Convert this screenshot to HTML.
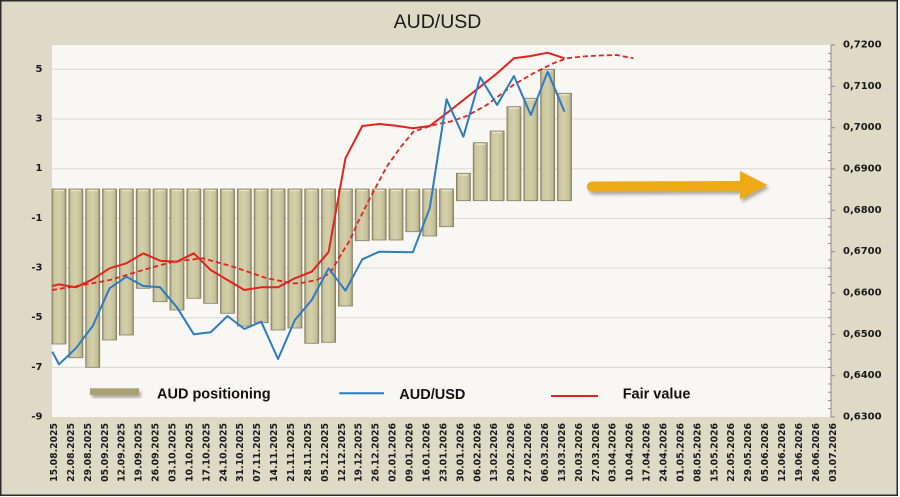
<!DOCTYPE html>
<html>
<head>
<meta charset="utf-8">
<style>
html,body{margin:0;padding:0;background:#ffffff;}
svg{display:block;}
</style>
</head>
<body>
<svg width="900" height="497" viewBox="0 0 900 497" xmlns="http://www.w3.org/2000/svg">
<defs>
<linearGradient id="bar" x1="0" y1="0" x2="1" y2="0">
<stop offset="0" stop-color="#8f896b"/>
<stop offset="0.14" stop-color="#cdc7a0"/>
<stop offset="0.5" stop-color="#d4cfaa"/>
<stop offset="0.86" stop-color="#c3bd95"/>
<stop offset="1" stop-color="#8a8466"/>
</linearGradient>
<filter id="sh" x="-10%" y="-30%" width="130%" height="180%">
<feDropShadow dx="2" dy="3" stdDeviation="1.6" flood-color="#6d6a5e" flood-opacity="0.55"/>
</filter>
</defs>

<!-- outer background and frame -->
<rect x="0.75" y="0.75" width="896.5" height="494.5" fill="#dddac6" stroke="#2b2b2b" stroke-width="1.5"/>

<!-- title -->
<text x="437.5" y="28" font-family="Liberation Sans, sans-serif" font-size="19.5" fill="#1a1a1a" text-anchor="middle">AUD/USD</text>

<!-- plot area -->
<rect x="52" y="45" width="779" height="372" fill="#f8f7f3"/>

<!-- gridlines -->
<g stroke="#d9d8d3" stroke-width="1">
<line x1="52" y1="69.3" x2="831" y2="69.3"/>
<line x1="52" y1="119" x2="831" y2="119"/>
<line x1="52" y1="168.7" x2="831" y2="168.7"/>
<line x1="52" y1="218.4" x2="831" y2="218.4"/>
<line x1="52" y1="268" x2="831" y2="268"/>
<line x1="52" y1="317.7" x2="831" y2="317.7"/>
<line x1="52" y1="367.4" x2="831" y2="367.4"/>
</g>

<!-- bars -->
<g fill="url(#bar)" stroke="#857f62" stroke-width="0.8">
<rect x="52" y="189" width="14" height="155"/>
<rect x="68.85" y="189" width="14" height="168.7"/>
<rect x="85.7" y="189" width="14" height="178.3"/>
<rect x="102.55" y="189" width="14" height="151"/>
<rect x="119.4" y="189" width="14" height="146"/>
<rect x="136.25" y="189" width="14" height="99.3"/>
<rect x="153.1" y="189" width="14" height="112.7"/>
<rect x="169.95" y="189" width="14" height="121"/>
<rect x="186.8" y="189" width="14" height="109.3"/>
<rect x="203.65" y="189" width="14" height="114.3"/>
<rect x="220.5" y="189" width="14" height="124.3"/>
<rect x="237.35" y="189" width="14" height="137"/>
<rect x="254.2" y="189" width="14" height="133.7"/>
<rect x="271.05" y="189" width="14" height="141"/>
<rect x="287.9" y="189" width="14" height="139"/>
<rect x="304.75" y="189" width="14" height="154.3"/>
<rect x="321.6" y="189" width="14" height="153.3"/>
<rect x="338.45" y="189" width="14" height="117"/>
<rect x="355.3" y="189" width="14" height="51.7"/>
<rect x="372.15" y="189" width="14" height="51"/>
<rect x="389" y="189" width="14" height="51"/>
<rect x="405.85" y="189" width="14" height="42.7"/>
<rect x="422.7" y="189" width="14" height="47"/>
<rect x="439.55" y="189" width="14" height="37.7"/>
<rect x="456.4" y="173.3" width="14" height="27.4"/>
<rect x="473.25" y="142.7" width="14" height="58"/>
<rect x="490.1" y="131" width="14" height="69.7"/>
<rect x="506.95" y="106.7" width="14" height="94"/>
<rect x="523.8" y="98.3" width="14" height="102.4"/>
<rect x="540.65" y="69.3" width="14" height="131.4"/>
<rect x="557.5" y="93.3" width="14" height="107.4"/>
</g>
<!-- bar top highlights -->
<g stroke="#ebe7cc" stroke-width="1.2">
<line x1="54" y1="190.5" x2="64" y2="190.5"/><line x1="70.8" y1="190.5" x2="80.8" y2="190.5"/><line x1="87.7" y1="190.5" x2="97.7" y2="190.5"/><line x1="104.5" y1="190.5" x2="114.5" y2="190.5"/><line x1="121.4" y1="190.5" x2="131.4" y2="190.5"/><line x1="138.2" y1="190.5" x2="148.2" y2="190.5"/><line x1="155.1" y1="190.5" x2="165.1" y2="190.5"/><line x1="172" y1="190.5" x2="182" y2="190.5"/><line x1="188.8" y1="190.5" x2="198.8" y2="190.5"/><line x1="205.6" y1="190.5" x2="215.6" y2="190.5"/><line x1="222.5" y1="190.5" x2="232.5" y2="190.5"/><line x1="239.3" y1="190.5" x2="249.3" y2="190.5"/><line x1="256.2" y1="190.5" x2="266.2" y2="190.5"/><line x1="273" y1="190.5" x2="283" y2="190.5"/><line x1="289.9" y1="190.5" x2="299.9" y2="190.5"/><line x1="306.7" y1="190.5" x2="316.7" y2="190.5"/><line x1="323.6" y1="190.5" x2="333.6" y2="190.5"/><line x1="340.4" y1="190.5" x2="350.4" y2="190.5"/><line x1="357.3" y1="190.5" x2="367.3" y2="190.5"/><line x1="374.1" y1="190.5" x2="384.1" y2="190.5"/><line x1="391" y1="190.5" x2="401" y2="190.5"/><line x1="407.8" y1="190.5" x2="417.8" y2="190.5"/><line x1="424.7" y1="190.5" x2="434.7" y2="190.5"/><line x1="441.5" y1="190.5" x2="451.5" y2="190.5"/>
<line x1="458.4" y1="174.8" x2="468.4" y2="174.8"/><line x1="475.2" y1="144.2" x2="485.2" y2="144.2"/><line x1="492.1" y1="132.5" x2="502.1" y2="132.5"/><line x1="508.9" y1="108.2" x2="518.9" y2="108.2"/><line x1="525.8" y1="99.8" x2="535.8" y2="99.8"/><line x1="542.6" y1="70.8" x2="552.6" y2="70.8"/><line x1="559.5" y1="94.8" x2="569.5" y2="94.8"/>
</g>

<!-- red dashed fair-value trend -->
<polyline fill="none" stroke="#e2231c" stroke-width="1.8" stroke-dasharray="5,3" stroke-linejoin="round"
points="52,290 83,285 110,280 143,270 173,261.7 203,258.3 233,266.7 267,278.3 293,283.3 300,283.3 316.7,280 330,273.3 341.7,253.3 350,240 358,222 369,200 386.7,166.7 400,148 413.3,131.7 433.3,125 450,121.7 466.7,116 486.7,105 513.3,85 533.3,73.3 553.3,63.3 566.7,58.3 583,56.5 600,55.5 616.7,55 633.3,58.3"/>

<!-- red solid fair value -->
<polyline fill="none" stroke="#e2231c" stroke-width="2" stroke-linejoin="round"
points="52.3,286 59,284.3 75.85,287.3 92.7,279.3 109.55,268.3 126.4,263.3 143.25,253.3 160.1,260.7 176.95,261.7 193.8,253.3 210.65,270 227.5,280 244.35,290 261.2,287.3 278.05,287.3 294.9,278.3 311.75,271.7 328.6,252 345.45,158.3 362.3,126 379.15,124 396,125.7 412.85,128.3 429.7,126 446.55,113.3 463.4,100 480.25,86.7 497.1,73.3 513.95,58.3 530.8,56 547.65,52.7 564.5,58.3"/>

<!-- blue AUD/USD -->
<polyline fill="none" stroke="#2b7cc2" stroke-width="2" stroke-linejoin="round"
points="52.3,351.7 59,364.3 75.85,348.3 92.7,326 109.55,288.3 126.4,276.7 143.25,286 160.1,287.3 176.95,307.3 193.8,334.3 210.65,332.3 227.5,316 244.35,329 261.2,321.7 278.05,359 294.9,320 311.75,300 328.6,268.3 345.45,290.7 362.3,259.3 379.15,251.7 396,252 412.85,252.3 429.7,208.3 446.55,99.3 463.4,136.7 480.25,77.3 497.1,105 513.95,76 530.8,115 547.65,71.7 564.5,111.7"/>

<!-- arrow -->
<g filter="url(#sh)" fill="#eeaa16">
<path d="M592,181.5 L742,181 L742,191 L592,191.8 A5.15,5.15 0 0 1 592,181.5 Z"/>
<polygon points="740,171 767.5,185 740,199.5"/>
</g>

<!-- right axis -->
<g stroke="#9e8080" stroke-width="1">
<line x1="831" y1="45" x2="831" y2="417"/>
<line x1="831" y1="45" x2="835" y2="45"/><line x1="831" y1="86.3" x2="835" y2="86.3"/><line x1="831" y1="127.7" x2="835" y2="127.7"/><line x1="831" y1="169" x2="835" y2="169"/><line x1="831" y1="210.3" x2="835" y2="210.3"/><line x1="831" y1="251.7" x2="835" y2="251.7"/><line x1="831" y1="293" x2="835" y2="293"/><line x1="831" y1="334.3" x2="835" y2="334.3"/><line x1="831" y1="375.7" x2="835" y2="375.7"/><line x1="831" y1="417" x2="835" y2="417"/>
</g>
<g stroke="#8a7070" stroke-width="0.8">
<line x1="828" y1="53.3" x2="831" y2="53.3"/><line x1="828" y1="61.5" x2="831" y2="61.5"/><line x1="828" y1="69.8" x2="831" y2="69.8"/><line x1="828" y1="78.1" x2="831" y2="78.1"/>
<line x1="828" y1="94.6" x2="831" y2="94.6"/><line x1="828" y1="102.9" x2="831" y2="102.9"/><line x1="828" y1="111.1" x2="831" y2="111.1"/><line x1="828" y1="119.4" x2="831" y2="119.4"/>
<line x1="828" y1="136" x2="831" y2="136"/><line x1="828" y1="144.2" x2="831" y2="144.2"/><line x1="828" y1="152.5" x2="831" y2="152.5"/><line x1="828" y1="160.7" x2="831" y2="160.7"/>
<line x1="828" y1="177.3" x2="831" y2="177.3"/><line x1="828" y1="185.5" x2="831" y2="185.5"/><line x1="828" y1="193.8" x2="831" y2="193.8"/><line x1="828" y1="202" x2="831" y2="202"/>
<line x1="828" y1="218.6" x2="831" y2="218.6"/><line x1="828" y1="226.9" x2="831" y2="226.9"/><line x1="828" y1="235.1" x2="831" y2="235.1"/><line x1="828" y1="243.4" x2="831" y2="243.4"/>
<line x1="828" y1="260" x2="831" y2="260"/><line x1="828" y1="268.2" x2="831" y2="268.2"/><line x1="828" y1="276.5" x2="831" y2="276.5"/><line x1="828" y1="284.7" x2="831" y2="284.7"/>
<line x1="828" y1="301.3" x2="831" y2="301.3"/><line x1="828" y1="309.5" x2="831" y2="309.5"/><line x1="828" y1="317.8" x2="831" y2="317.8"/><line x1="828" y1="326" x2="831" y2="326"/>
<line x1="828" y1="342.6" x2="831" y2="342.6"/><line x1="828" y1="350.9" x2="831" y2="350.9"/><line x1="828" y1="359.1" x2="831" y2="359.1"/><line x1="828" y1="367.4" x2="831" y2="367.4"/>
<line x1="828" y1="384" x2="831" y2="384"/><line x1="828" y1="392.2" x2="831" y2="392.2"/><line x1="828" y1="400.5" x2="831" y2="400.5"/><line x1="828" y1="408.7" x2="831" y2="408.7"/>
</g>

<!-- right axis labels -->
<g font-family="DejaVu Sans, sans-serif" font-weight="bold" font-size="10" fill="#1a1a1a" dominant-baseline="central">
<text x="843" y="45">0,7200</text>
<text x="843" y="86.3">0,7100</text>
<text x="843" y="127.7">0,7000</text>
<text x="843" y="169">0,6900</text>
<text x="843" y="210.3">0,6800</text>
<text x="843" y="251.7">0,6700</text>
<text x="843" y="293">0,6600</text>
<text x="843" y="334.3">0,6500</text>
<text x="843" y="375.7">0,6400</text>
<text x="843" y="417">0,6300</text>
</g>

<!-- left axis labels -->
<g font-family="DejaVu Sans, sans-serif" font-weight="bold" font-size="10" fill="#1a1a1a" text-anchor="end" dominant-baseline="central">
<text x="42.5" y="69.3">5</text>
<text x="42.5" y="119">3</text>
<text x="42.5" y="168.7">1</text>
<text x="42.5" y="218.4">-1</text>
<text x="42.5" y="268">-3</text>
<text x="42.5" y="317.7">-5</text>
<text x="42.5" y="367.4">-7</text>
<text x="42.5" y="417">-9</text>
</g>

<!-- x axis labels -->
<g font-family="DejaVu Sans, sans-serif" font-weight="bold" font-size="9.3" fill="#1a1a1a" text-anchor="end" dominant-baseline="central">
<text transform="translate(54.5,423) rotate(-90)">15.08.2025</text>
<text transform="translate(71.4,423) rotate(-90)">22.08.2025</text>
<text transform="translate(88.4,423) rotate(-90)">29.08.2025</text>
<text transform="translate(105.3,423) rotate(-90)">05.09.2025</text>
<text transform="translate(122.2,423) rotate(-90)">12.09.2025</text>
<text transform="translate(139.2,423) rotate(-90)">19.09.2025</text>
<text transform="translate(156.1,423) rotate(-90)">26.09.2025</text>
<text transform="translate(173,423) rotate(-90)">03.10.2025</text>
<text transform="translate(189.9,423) rotate(-90)">10.10.2025</text>
<text transform="translate(206.9,423) rotate(-90)">17.10.2025</text>
<text transform="translate(223.8,423) rotate(-90)">24.10.2025</text>
<text transform="translate(240.7,423) rotate(-90)">31.10.2025</text>
<text transform="translate(257.7,423) rotate(-90)">07.11.2025</text>
<text transform="translate(274.6,423) rotate(-90)">14.11.2025</text>
<text transform="translate(291.5,423) rotate(-90)">21.11.2025</text>
<text transform="translate(308.5,423) rotate(-90)">28.11.2025</text>
<text transform="translate(325.4,423) rotate(-90)">05.12.2025</text>
<text transform="translate(342.3,423) rotate(-90)">12.12.2025</text>
<text transform="translate(359.2,423) rotate(-90)">19.12.2025</text>
<text transform="translate(376.2,423) rotate(-90)">26.12.2025</text>
<text transform="translate(393.1,423) rotate(-90)">02.01.2026</text>
<text transform="translate(410,423) rotate(-90)">09.01.2026</text>
<text transform="translate(427,423) rotate(-90)">16.01.2026</text>
<text transform="translate(443.9,423) rotate(-90)">23.01.2026</text>
<text transform="translate(460.8,423) rotate(-90)">30.01.2026</text>
<text transform="translate(477.8,423) rotate(-90)">06.02.2026</text>
<text transform="translate(494.7,423) rotate(-90)">13.02.2026</text>
<text transform="translate(511.6,423) rotate(-90)">20.02.2026</text>
<text transform="translate(528.5,423) rotate(-90)">27.02.2026</text>
<text transform="translate(545.5,423) rotate(-90)">06.03.2026</text>
<text transform="translate(562.4,423) rotate(-90)">13.03.2026</text>
<text transform="translate(579.3,423) rotate(-90)">20.03.2026</text>
<text transform="translate(596.3,423) rotate(-90)">27.03.2026</text>
<text transform="translate(613.2,423) rotate(-90)">03.04.2026</text>
<text transform="translate(630.1,423) rotate(-90)">10.04.2026</text>
<text transform="translate(647.1,423) rotate(-90)">17.04.2026</text>
<text transform="translate(664,423) rotate(-90)">24.04.2026</text>
<text transform="translate(680.9,423) rotate(-90)">01.05.2026</text>
<text transform="translate(697.8,423) rotate(-90)">08.05.2026</text>
<text transform="translate(714.8,423) rotate(-90)">15.05.2026</text>
<text transform="translate(731.7,423) rotate(-90)">22.05.2026</text>
<text transform="translate(748.6,423) rotate(-90)">29.05.2026</text>
<text transform="translate(765.6,423) rotate(-90)">05.06.2026</text>
<text transform="translate(782.5,423) rotate(-90)">12.06.2026</text>
<text transform="translate(799.4,423) rotate(-90)">19.06.2026</text>
<text transform="translate(816.4,423) rotate(-90)">26.06.2026</text>
<text transform="translate(833.3,423) rotate(-90)">03.07.2026</text>
</g>

<!-- legend -->
<rect x="90" y="388.3" width="49" height="6.7" fill="#a9a171" filter="url(#sh)"/>
<text x="157" y="398.3" font-family="Liberation Sans, sans-serif" font-weight="bold" font-size="14.5" fill="#111">AUD positioning</text>
<line x1="339.3" y1="393.3" x2="384" y2="393.3" stroke="#2b7cc2" stroke-width="2"/>
<text x="399.3" y="398.8" font-family="Liberation Sans, sans-serif" font-weight="bold" font-size="14.5" fill="#111">AUD/USD</text>
<line x1="551" y1="396" x2="598" y2="396" stroke="#e2231c" stroke-width="2"/>
<text x="622.7" y="398.3" font-family="Liberation Sans, sans-serif" font-weight="bold" font-size="14.5" fill="#111">Fair value</text>
</svg>
</body>
</html>
